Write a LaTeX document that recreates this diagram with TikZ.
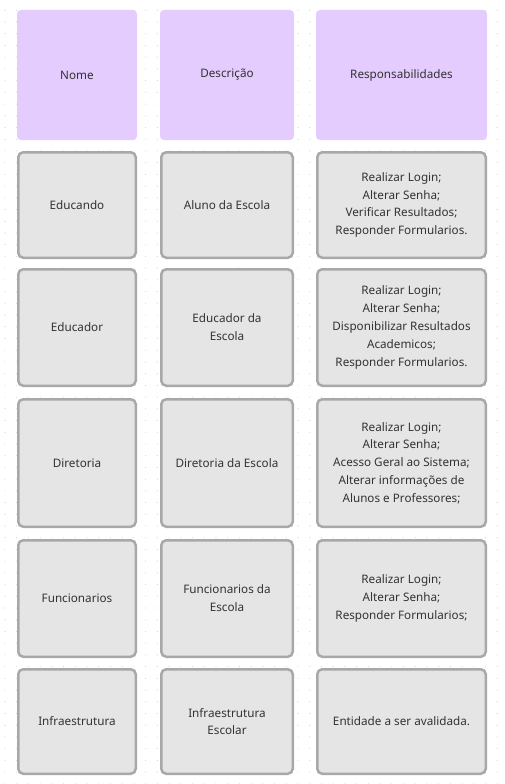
\documentclass[tikz,border=0pt]{standalone}
\usepackage{fontspec}
\setmainfont{Noto Sans}
\definecolor{hdr}{HTML}{E4CCFE}
\definecolor{cellfill}{HTML}{E5E5E5}
\definecolor{celldraw}{HTML}{A8A8A8}
\definecolor{txt}{HTML}{333333}
\definecolor{dotc}{HTML}{D2D2D2}
\tikzset{
  hdrbox/.style={fill=hdr, draw=none, rounded corners=4pt},
  cellbox/.style={fill=cellfill, draw=celldraw, line width=2.5pt, rounded corners=5pt},
  lbl/.style={text=txt, align=center, font=\fontsize{11.7}{17.8}\selectfont, inner sep=0pt}
}
\begin{document}
\begin{tikzpicture}[x=1pt,y=-1pt]
\useasboundingbox (0,0) rectangle (504,784);
\fill[white] (0,0) rectangle (504,784);
% dot grid
\foreach \i in {0,...,42}{
  \foreach \j in {0,...,66}{
    \fill[dotc] ({5+\i*11.72},{10.3+\j*11.72}) circle (0.55pt);
  }
}
% header row
\fill[hdrbox] (17,10) rectangle (137,140);
\fill[hdrbox] (160,10) rectangle (294,140);
\fill[hdrbox] (316,10) rectangle (487,140);
\node[lbl] (h1) at (77,75) {Nome};
\node[lbl] (h2) at (227,75) {Descrição};
\node[lbl] (h3) at (401.5,75) {Responsabilidades};
% rows: tops/bottoms
\foreach \t/\b [count=\r] in {151/259, 268/387, 398/528, 539/658, 668/775}{
  \draw[cellbox] (18.25,\t+1.25) rectangle (135.75,\b-1.25);
  \draw[cellbox] (161.25,\t+1.25) rectangle (292.75,\b-1.25);
  \draw[cellbox] (317.25,\t+1.25) rectangle (485.75,\b-1.25);
}
% row 1
\node[lbl] (a1) at (77,205) {Educando};
\node[lbl] (b1) at (227,205) {Aluno da Escola};
\node[lbl] (c1) at (401.5,205) {Realizar Login;\\Alterar Senha;\\Verificar Resultados;\\Responder Formularios.};
% row 2
\node[lbl] (a2) at (77,327.5) {Educador};
\node[lbl] (b2) at (227,327.5) {Educador da\\Escola};
\node[lbl] (c2) at (401.5,327.5) {Realizar Login;\\Alterar Senha;\\Disponibilizar Resultados\\Academicos;\\Responder Formularios.};
% row 3
\node[lbl] (a3) at (77,463) {Diretoria};
\node[lbl] (b3) at (227,463) {Diretoria da Escola};
\node[lbl] (c3) at (401.5,463) {Realizar Login;\\Alterar Senha;\\Acesso Geral ao Sistema;\\Alterar informações de\\Alunos e Professores;};
% row 4
\node[lbl] (a4) at (77,598.5) {Funcionarios};
\node[lbl] (b4) at (227,598.5) {Funcionarios da\\Escola};
\node[lbl] (c4) at (401.5,598.5) {Realizar Login;\\Alterar Senha;\\Responder Formularios;};
% row 5
\node[lbl] (a5) at (77,721.5) {Infraestrutura};
\node[lbl] (b5) at (227,721.5) {Infraestrutura\\Escolar};
\node[lbl] (c5) at (401.5,721.5) {Entidade a ser avalidada.};
\end{tikzpicture}
\end{document}
